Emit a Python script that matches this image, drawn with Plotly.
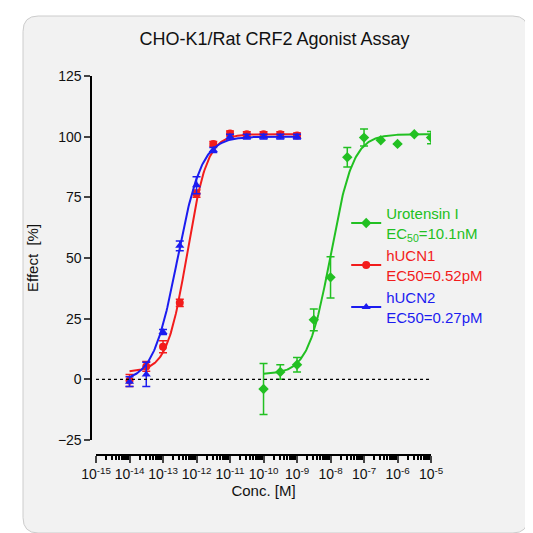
import numpy as np
import plotly.graph_objects as go

red_x = [-14, -13.5, -13, -12.5, -12, -11.5, -11, -10.5, -10, -9.5, -9]
red_y = [-0.5, 5.3, 13.4, 31.5, 76.5, 97, 101.3, 101, 101, 101, 100.5]
red_e = [2.5, 2, 2.5, 1.5, 1.5, 1, 1, 1, 1, 1, 1]
blue_x = [-14, -13.5, -13, -12.5, -12, -11.5, -11, -10.5, -10, -9.5, -9]
blue_y = [-1, 2, 19.5, 55, 80, 94.5, 100, 100, 100, 100, 100]
blue_e = [2, 5, 1, 2, 3.5, 1, 1, 1, 1, 1, 1]
green_x = [-10, -9.5, -9, -8.5, -8, -7.5, -7, -6.5, -6, -5.5, -5]
green_y = [-4, 3, 6, 24.5, 42, 91.5, 99.6, 98.5, 97, 101, 99.6]
green_e = [10.5, 3, 3, 4.5, 8.5, 4, 3.5, 0, 0, 0, 2.5]

fits = {  # bottom, top, logEC50, hill, range
    "green": (2, 101, -7.996, 1.3, -10, -5),
    "red": (3, 101, -12.28, 1.45, -14, -9),
    "blue": (-1, 100, -12.57, 1.2, -14, -9),
}
cols = {"green": "#22c022", "red": "#f21c1c", "blue": "#1c1cf0"}
syms = {"green": "diamond", "red": "circle", "blue": "triangle-up"}
names = {
    "green": "Urotensin I<br>EC<sub>50</sub>=10.1nM",
    "red": "hUCN1<br>EC50=0.52pM",
    "blue": "hUCN2<br>EC50=0.27pM",
}
data = {"green": (green_x, green_y, green_e), "red": (red_x, red_y, red_e), "blue": (blue_x, blue_y, blue_e)}

fig = go.Figure()
for k in ["green", "red", "blue"]:
    b, t, ec, h, lo, hi = fits[k]
    lx = np.linspace(lo, hi, 200)
    fy = b + (t - b) / (1 + 10 ** ((ec - lx) * h))
    fig.add_trace(go.Scatter(x=10 ** lx, y=fy, mode="lines", line=dict(color=cols[k], width=2), showlegend=False))
    xs, ys, es = data[k]
    fig.add_trace(go.Scatter(x=[10 ** v for v in xs], y=ys, mode="markers",
                             marker=dict(symbol=syms[k], color=cols[k], size=8),
                             error_y=dict(type="data", array=es, color=cols[k], thickness=1.5, width=4),
                             showlegend=False))
for k in ["green", "red", "blue"]:
    fig.add_trace(go.Scatter(x=[None], y=[None], mode="lines+markers",
                             line=dict(color=cols[k], width=2),
                             marker=dict(symbol=syms[k], color=cols[k], size=8),
                             name=f"<span style='color:{cols[k]}'>{names[k]}</span>"))

tickvals = [10.0 ** p for p in range(-15, -4)]
ticktext = [f"10<sup>{p}</sup>" for p in range(-15, -4)]
fig.update_layout(
    width=533, height=533, margin=dict(l=0, r=0, t=0, b=0),
    paper_bgcolor="white", plot_bgcolor="rgba(0,0,0,0)",
    font=dict(family="Liberation Sans, Arial", size=13, color="#111"),
    title=dict(text="CHO-K1/Rat CRF2 Agonist Assay", x=0.5, xanchor="center", y=0.955, font=dict(size=18)),
    xaxis=dict(type="log", range=[-15, -5], domain=[0.1446, 0.808], anchor="free", position=0.151,
               tickvals=tickvals, ticktext=ticktext, ticks="outside", ticklen=7, tickwidth=1.5,
               showline=True, linecolor="black", linewidth=1.5, showgrid=False, zeroline=False,
               minor=dict(ticks="outside", ticklen=4, dtick="D1", tickcolor="black", showgrid=False),
               title=dict(text="Conc. [M]", standoff=2, font=dict(size=15)), tickfont=dict(size=14)),
    yaxis=dict(range=[-25, 125], domain=[0.180, 0.884], anchor="free", position=0.135,
               tickvals=[-25, 0, 25, 50, 75, 100, 125], ticks="outside", ticklen=6, tickwidth=1.5,
               showline=True, linecolor="black", linewidth=1.5, showgrid=False, zeroline=False,
               title=dict(text="Effect  [%]", font=dict(size=15)), tickfont=dict(size=14)),
    legend=dict(x=0.64, y=0.65, xanchor="left", yanchor="top", bgcolor="rgba(0,0,0,0)",
                font=dict(size=15), tracegroupgap=16),
    shapes=[
        dict(type="path", xref="paper", yref="paper", layer="below",
             path="M 0.03 0 L 0.97 0 Q 1 0 1 0.03 L 1 0.97 Q 1 1 0.97 1 L 0.03 1 Q 0 1 0 0.97 L 0 0.03 Q 0 0 0.03 0 Z",
             fillcolor="#f2f2f2", line=dict(color="#cccccc", width=1)),
        dict(type="line", xref="paper", yref="y", x0=0.1446, x1=0.808, y0=0, y1=0,
             line=dict(color="black", width=1.2, dash="dot")),
    ],
)
fig.write_html("out.html")
